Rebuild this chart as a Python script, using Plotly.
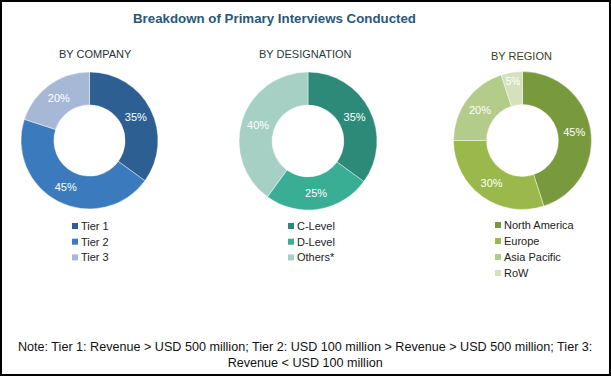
import plotly.graph_objects as go

W, H = 611, 376

title_text = "Breakdown of Primary Interviews Conducted"
note_text = ("Note: Tier 1: Revenue &gt; USD 500 million; Tier 2: USD 100 million &gt; Revenue &gt; USD 500 million; Tier 3:"
             "<br>Revenue &lt; USD 100 million")

company_title = "BY COMPANY"
company_labels = ["Tier 1", "Tier 2", "Tier 3"]
company_values = [35, 45, 20]
company_colors = ["#2d5f93", "#3b7bbd", "#a6b8d5"]

designation_title = "BY DESIGNATION"
designation_labels = ["C-Level", "D-Level", "Others*"]
designation_values = [35, 25, 40]
designation_colors = ["#2e8a78", "#3aad95", "#a6d0c4"]

region_title = "BY REGION"
region_labels = ["North America", "Europe", "Asia Pacific", "RoW"]
region_values = [45, 30, 20, 5]
region_colors = ["#789a3d", "#9bb94b", "#b4cc8a", "#d5e1bd"]


def px(x):
    return x / W


def py(y):
    return 1 - y / H


groups = [
    (company_title, company_labels, company_values, company_colors, 89.5, 140.5, 68.5, (95, 54), (72, 226), 15.7, "#2b2f3a"),
    (designation_title, designation_labels, designation_values, designation_colors, 308, 141, 69, (305, 54), (288, 226), 15.7, "#2b3a38"),
    (region_title, region_labels, region_values, region_colors, 522.5, 140.5, 69, (521, 56), (495, 225), 16, "#3e3e22"),
]

fig = go.Figure()
annotations = []
shapes = []

for (gt, labels, values, colors, cx, cy, r, tpos, lpos, lstep, tcol) in groups:
    fig.add_trace(go.Pie(
        labels=labels,
        values=values,
        hole=0.52,
        sort=False,
        direction="clockwise",
        rotation=0,
        marker=dict(colors=colors, line=dict(color="rgba(255,255,255,0.6)", width=0.7)),
        texttemplate="%{value}%",
        textposition="inside",
        insidetextorientation="horizontal",
        textfont=dict(color="white", size=11, family="Liberation Sans, Arial, sans-serif"),
        domain=dict(x=[px(cx - r), px(cx + r)], y=[py(cy + r), py(cy - r)]),
        showlegend=False,
        hoverinfo="label+percent",
    ))
    annotations.append(dict(
        x=px(tpos[0]), y=py(tpos[1]), xref="paper", yref="paper",
        text=gt, showarrow=False, xanchor="center", yanchor="middle",
        font=dict(size=11, color=tcol, family="Liberation Sans, Arial, sans-serif"),
    ))
    lx, ly = lpos
    for i, (lab, col) in enumerate(zip(labels, colors)):
        yy = ly + i * lstep
        shapes.append(dict(
            type="rect", xref="paper", yref="paper",
            x0=px(lx), x1=px(lx + 6), y0=py(yy + 3), y1=py(yy - 3),
            fillcolor=col, line=dict(width=0),
        ))
        annotations.append(dict(
            x=px(lx + 7), y=py(yy), xref="paper", yref="paper",
            text=lab, showarrow=False, xanchor="left", yanchor="middle",
            font=dict(size=11, color="#222222", family="Liberation Sans, Arial, sans-serif"),
        ))

annotations.append(dict(
    x=px(274), y=py(19), xref="paper", yref="paper",
    text="<b>" + title_text + "</b>", showarrow=False, xanchor="center", yanchor="middle",
    font=dict(size=13.3, color="#2a5877", family="Liberation Sans, Arial, sans-serif"),
))
annotations.append(dict(
    x=px(305), y=py(355), xref="paper", yref="paper",
    text=note_text, showarrow=False, xanchor="center", yanchor="middle",
    font=dict(size=12.6, color="#111111", family="Liberation Sans, Arial, sans-serif"),
))

shapes.append(dict(
    type="rect", xref="paper", yref="paper",
    x0=px(1), x1=px(W - 1), y0=py(H - 1), y1=py(1),
    line=dict(color="black", width=2), fillcolor="rgba(0,0,0,0)",
))

fig.update_layout(
    width=W, height=H,
    margin=dict(l=0, r=0, t=0, b=0),
    paper_bgcolor="white",
    plot_bgcolor="white",
    annotations=annotations,
    shapes=shapes,
)

fig.write_html("out.html",
               config={"displayModeBar": False},
               post_script="document.body.style.margin='0';document.body.style.overflow='hidden';")
